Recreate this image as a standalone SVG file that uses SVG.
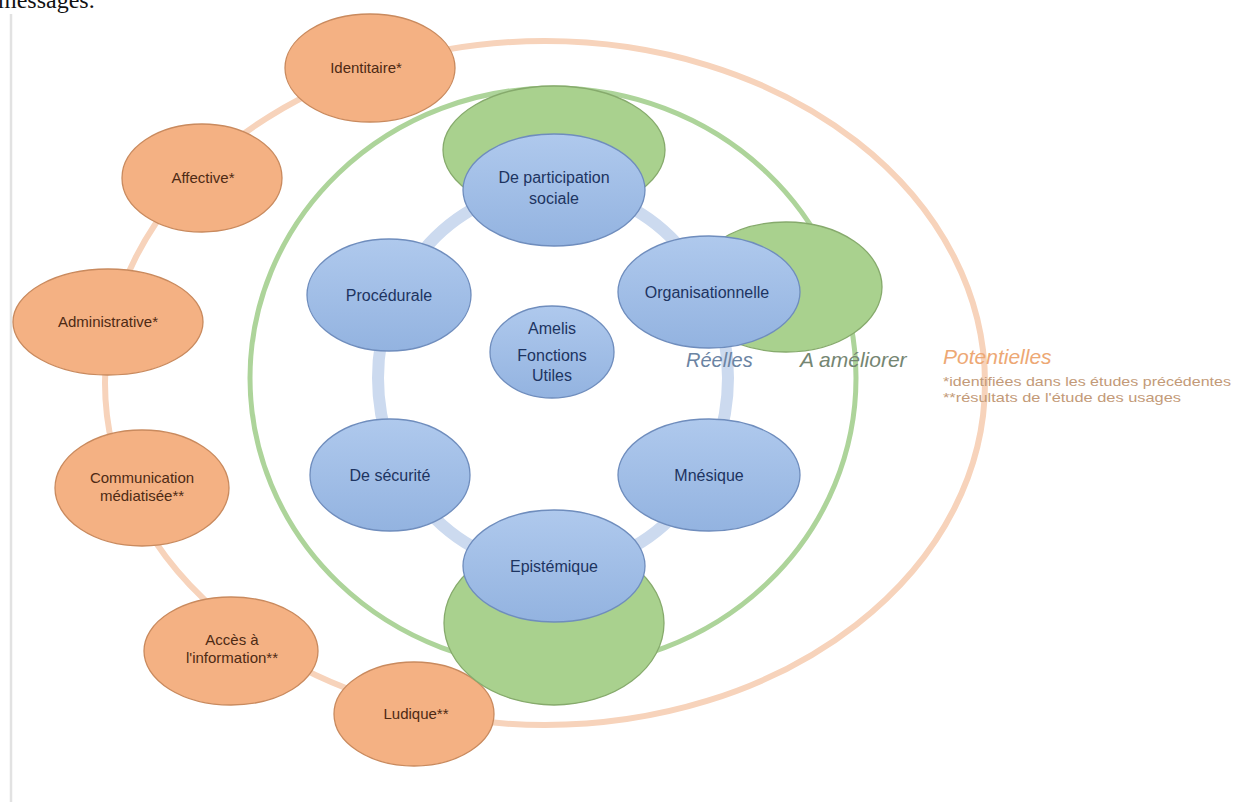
<svg xmlns="http://www.w3.org/2000/svg" width="1234" height="802" viewBox="0 0 1234 802">
<defs>
<linearGradient id="gb" x1="0" y1="0" x2="0" y2="1"><stop offset="0" stop-color="#afc9ed"/><stop offset="1" stop-color="#93b3e0"/></linearGradient>
<style>
.or{fill:#f4b183;stroke:#c98a5e;stroke-width:1.3}
.bl{fill:url(#gb);stroke:#6f8dbd;stroke-width:1.3}
.gr{fill:#a9d18e;stroke:#86aa6c;stroke-width:1.3}
.ot{font-family:"Liberation Sans",Arial,sans-serif;font-size:15px;fill:#4e2a14;text-anchor:middle}
.bt{font-family:"Liberation Sans",Arial,sans-serif;font-size:16px;fill:#1d3461;text-anchor:middle}
.lab{font-family:"Liberation Sans",Arial,sans-serif;font-style:italic;font-size:20px}
.leg{font-family:"Liberation Sans",Arial,sans-serif;font-size:13px;fill:#c39a78}
</style>
</defs>
<rect width="1234" height="802" fill="#ffffff"/>
<text x="-2" y="8" font-family="Liberation Serif,serif" font-size="24" fill="#111">messages.</text>
<line x1="11" y1="14" x2="11" y2="802" stroke="#e2e2e2" stroke-width="2.5"/>
<g id="connectors" fill="none">
<ellipse cx="545" cy="383" rx="440" ry="342" stroke="#f7d3bb" stroke-width="6"/>
<ellipse cx="553" cy="378" rx="303" ry="290" stroke="#add49a" stroke-width="5"/>
<ellipse cx="553" cy="378" rx="175" ry="190" stroke="#ccdaef" stroke-width="12"/>
</g>
<g id="n-identitaire"><ellipse class="or" cx="370" cy="68" rx="85" ry="54"/><text class="ot" x="366" y="73">Identitaire*</text></g>
<g id="n-affective"><ellipse class="or" cx="202" cy="178" rx="80" ry="54"/><text class="ot" x="203" y="183">Affective*</text></g>
<g id="n-administrative"><ellipse class="or" cx="108" cy="322" rx="95" ry="53"/><text class="ot" x="108" y="327">Administrative*</text></g>
<g id="n-communication"><ellipse class="or" cx="142" cy="488" rx="87" ry="58"/><text class="ot" x="142" y="483">Communication</text><text class="ot" x="142" y="501">médiatisée**</text></g>
<g id="n-acces"><ellipse class="or" cx="231" cy="651" rx="87" ry="54"/><text class="ot" x="232" y="645">Accès à</text><text class="ot" x="232" y="663">l'information**</text></g>
<g id="n-ludique"><ellipse class="or" cx="414" cy="714" rx="80" ry="52"/><text class="ot" x="416" y="719">Ludique**</text></g>
<g id="g-top"><ellipse class="gr" cx="554" cy="150" rx="111" ry="64"/></g>
<g id="g-right"><ellipse class="gr" cx="786" cy="287" rx="96" ry="65"/></g>
<g id="g-bottom"><ellipse class="gr" cx="554" cy="623" rx="110" ry="82"/></g>
<g id="n-participation"><ellipse class="bl" cx="554" cy="190" rx="91" ry="56"/><text class="bt" x="554" y="183">De participation</text><text class="bt" x="554" y="204">sociale</text></g>
<g id="n-organisationnelle"><ellipse class="bl" cx="709" cy="292" rx="91" ry="56"/><text class="bt" x="707" y="298">Organisationnelle</text></g>
<g id="n-procedurale"><ellipse class="bl" cx="389" cy="295" rx="82" ry="56"/><text class="bt" x="389" y="301">Procédurale</text></g>
<g id="n-amelis"><ellipse class="bl" cx="552" cy="352" rx="62" ry="46"/><text class="bt" x="552" y="334">Amelis</text><text class="bt" x="552" y="361">Fonctions</text><text class="bt" x="552" y="381">Utiles</text></g>
<g id="n-securite"><ellipse class="bl" cx="390" cy="475" rx="80" ry="56"/><text class="bt" x="390" y="481">De sécurité</text></g>
<g id="n-mnesique"><ellipse class="bl" cx="709" cy="475" rx="91" ry="56"/><text class="bt" x="709" y="481">Mnésique</text></g>
<g id="n-epistemique"><ellipse class="bl" cx="554" cy="566" rx="91" ry="56"/><text class="bt" x="554" y="572">Epistémique</text></g>
<g id="labels">
<text class="lab" x="686" y="367" fill="#6b84a3">Réelles</text>
<text class="lab" x="800" y="367" fill="#758672" style="font-size:21px">A améliorer</text>
<text class="lab" x="943" y="364" fill="#eda874" style="font-size:21px">Potentielles</text>
<text class="leg" x="943" y="386" textLength="288" lengthAdjust="spacingAndGlyphs">*identifiées dans les études précédentes</text>
<text class="leg" x="943" y="402" textLength="238" lengthAdjust="spacingAndGlyphs">**résultats de l'étude des usages</text>
</g>
</svg>
